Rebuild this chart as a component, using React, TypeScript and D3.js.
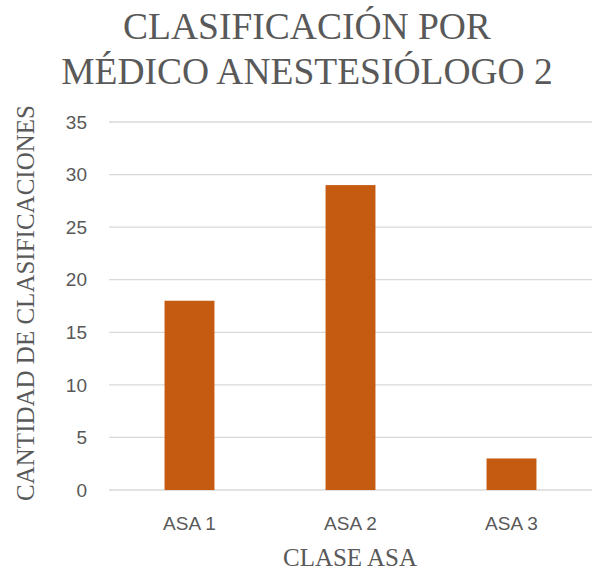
import React from "react";
import * as d3 from "d3";

const categories = ["ASA 1", "ASA 2", "ASA 3"];
const values = [18, 29, 3];
const yTicks = [0, 5, 10, 15, 20, 25, 30, 35];
const titleLines = ["CLASIFICACIÓN POR", "MÉDICO ANESTESIÓLOGO 2"];
const xTitle = "CLASE ASA";
const yTitle = "CANTIDAD DE CLASIFICACIONES";

export default function App() {
  const W = 595, H = 573;
  const left = 109, right = 592, top = 122, bottom = 490;
  const x = d3.scaleBand<string>().domain(categories).range([left, right]).paddingInner(0.69).paddingOuter(0.345);
  const y = d3.scaleLinear().domain([0, 35]).range([bottom, top]);
  const serif = "'Liberation Serif', 'Times New Roman', serif";
  const sans = "'Liberation Sans', Arial, sans-serif";
  const grey = "#595959";
  return (
    <svg width={W} height={H} style={{ position: "absolute", left: 0, top: 0 }}>
      <rect width={W} height={H} fill="#fff" />
      {titleLines.map((t, i) => (
        <text key={t} x={307} y={39 + i * 45} textAnchor="middle" fontFamily={serif} fontSize={37.5} fill={grey}>{t}</text>
      ))}
      {yTicks.map((t) => (
        <g key={t}>
          <line x1={left} x2={right} y1={y(t)} y2={y(t)} stroke="#d9d9d9" strokeWidth={1.3} />
          <text x={87} y={y(t)} dy="0.35em" textAnchor="end" fontFamily={sans} fontSize={19} fill={grey}>{t}</text>
        </g>
      ))}
      {categories.map((c, i) => (
        <rect key={c} x={x(c)} y={y(values[i])} width={x.bandwidth()} height={y(0) - y(values[i])} fill="#C55A11" />
      ))}
      {categories.map((c) => (
        <text key={c} x={(x(c) as number) + x.bandwidth() / 2} y={523} dy="0.35em" textAnchor="middle" fontFamily={sans} fontSize={19} fill={grey}>{c}</text>
      ))}
      <text x={350} y={566} textAnchor="middle" fontFamily={serif} fontSize={25} fill={grey}>{xTitle}</text>
      <text transform={`translate(34, 303) rotate(-90)`} textAnchor="middle" fontFamily={serif} fontSize={25} fill={grey}>{yTitle}</text>
    </svg>
  );
}
